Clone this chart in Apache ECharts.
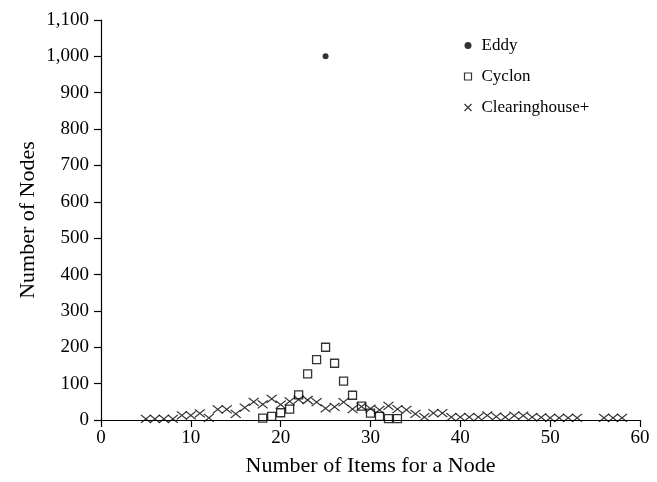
<!DOCTYPE html>
<html>
<head>
<meta charset="utf-8">
<script src="https://cdn.jsdelivr.net/npm/echarts@6/dist/echarts.min.js"></script>
<style>html,body{margin:0;padding:0;background:#fff;}#c{width:657px;height:482px;}</style>
</head>
<body>
<div id="c"></div>
<script>
var eddyX = [25];
var eddyY = [1000];
var cyclonX = [18, 19, 20, 21, 22, 23, 24, 25, 26, 27, 28, 29, 30, 31, 32, 33];
var cyclonY = [5, 10, 20, 30, 69, 127, 166, 200, 156, 107, 68, 38, 19, 10, 4, 4];
var chX = [5, 6, 7, 8, 9, 10, 11, 12, 13, 14, 15, 16, 17, 18, 19, 20, 21, 22, 23, 24, 25, 26, 27, 28, 29, 30,
           31, 32, 33, 34, 35, 36, 37, 38, 39, 40, 41, 42, 43, 44, 45, 46, 47, 48, 49, 50, 51, 52, 53, 56, 57, 58];
var chY = [3, 3, 3, 3, 13, 13, 18, 6, 29, 29, 17, 34, 50, 43, 58, 42, 51, 56, 55, 49, 32, 36, 49, 30, 37, 31,
           28, 39, 30, 28, 17, 8, 19, 19, 8, 8, 8, 8, 13, 9, 8, 12, 12, 8, 7, 6, 6, 6, 6, 6, 6, 6];
var xTicks = [0, 10, 20, 30, 40, 50, 60];
var yTicks = [0, 100, 200, 300, 400, 500, 600, 700, 800, 900, 1000, 1100];

function pairs(xs, ys) { return xs.map(function (x, i) { return [x, ys[i]]; }); }

var font = 'Liberation Serif';
var crossPath = 'path://M0,0L10,10M10,0L0,10';
var chart = echarts.init(document.getElementById('c'), null, { renderer: 'canvas' });
chart.setOption({
  animation: false,
  backgroundColor: '#fff',
  textStyle: { fontFamily: font, color: '#000' },
  grid: { left: 101, right: 17, top: 20, bottom: 61 },
  legend: {
    orient: 'vertical', left: 457, top: 32, itemGap: 14, itemWidth: 7, itemHeight: 7,
    textStyle: { fontFamily: font, fontSize: 17, color: '#000', padding: [0, 0, 0, 5] },
    data: [
      { name: 'Eddy', icon: 'circle', itemStyle: { color: '#000', borderWidth: 0 } },
      { name: 'Cyclon', icon: 'rect', itemStyle: { color: '#fff', borderColor: '#000', borderWidth: 1.2 } },
      { name: 'Clearinghouse+', icon: crossPath, itemStyle: { color: 'none', borderColor: '#000', borderWidth: 1.2 } }
    ]
  },
  xAxis: {
    type: 'value', min: 0, max: 60, interval: 10,
    name: 'Number of Items for a Node', nameLocation: 'middle', nameGap: 35, nameMoveOverlap: false,
    nameTextStyle: { fontFamily: font, fontSize: 22, color: '#000', verticalAlign: 'top' },
    axisLine: { show: true, lineStyle: { color: '#000', width: 1.2 } },
    axisTick: { show: true, length: 7, lineStyle: { color: '#000', width: 1.2 } },
    axisLabel: { fontFamily: font, fontSize: 19, color: '#000', margin: 9 },
    splitLine: { show: false }
  },
  yAxis: {
    type: 'value', min: 0, max: 1100, interval: 100,
    name: 'Number of Nodes', nameLocation: 'middle', nameGap: 62, nameMoveOverlap: false,
    nameTextStyle: { fontFamily: font, fontSize: 22, color: '#000' },
    axisLine: { show: true, lineStyle: { color: '#000', width: 1.2 } },
    axisTick: { show: true, length: 7, lineStyle: { color: '#000', width: 1.2 } },
    axisLabel: { fontFamily: font, fontSize: 19, color: '#000', margin: 12,
      formatter: function (v) { return v.toLocaleString('en-US'); } },
    splitLine: { show: false }
  },
  series: [
    { name: 'Eddy', type: 'scatter', data: pairs(eddyX, eddyY), symbol: 'circle', symbolSize: 6,
      itemStyle: { color: '#000' } },
    { name: 'Cyclon', type: 'scatter', data: pairs(cyclonX, cyclonY), symbol: 'rect', symbolSize: 8,
      itemStyle: { color: 'rgba(255,255,255,0)', borderColor: '#000', borderWidth: 1.3 } },
    { name: 'Clearinghouse+', type: 'scatter', data: pairs(chX, chY), symbol: crossPath, symbolSize: [10, 8],
      itemStyle: { color: 'none', borderColor: '#000', borderWidth: 1.2 } }
  ]
});
</script>
</body>
</html>
